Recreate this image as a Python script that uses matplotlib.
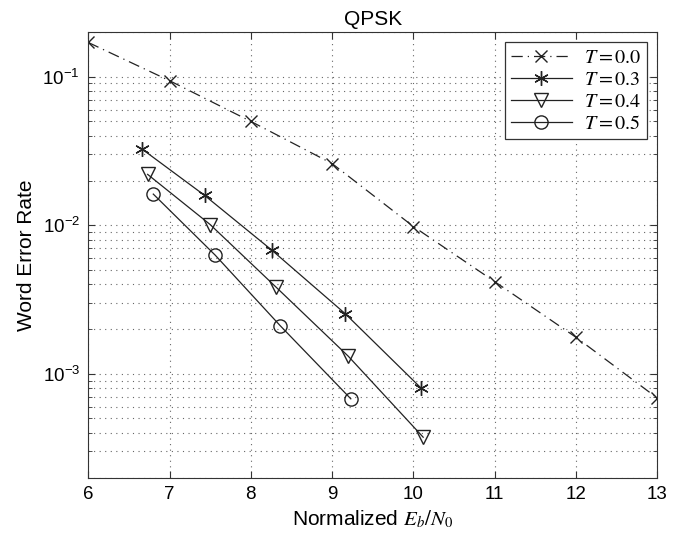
import numpy as np
from matplotlib import pyplot as plt
from matplotlib import ticker
import matplotlib

matplotlib.rc('font', family='Liberation Sans', size=13.5)
matplotlib.rc('mathtext', fontset='stix')

x_t0 = [6, 7, 8, 9, 10, 11, 12, 13]
wer_t0 = [0.170, 0.094, 0.050, 0.026, 0.0098, 0.00417, 0.00176, 0.000686]

x_t3 = [6.66, 7.43, 8.26, 9.16, 10.09]
wer_t3 = [0.0326, 0.0159, 0.00678, 0.00254, 0.000805]

x_t4 = [6.73, 7.50, 8.31, 9.20, 10.12]
wer_t4 = [0.0220, 0.0101, 0.00383, 0.00131, 0.000374]

x_t5 = [6.80, 7.56, 8.36, 9.23]
wer_t5 = [0.0162, 0.0063, 0.00211, 0.000678]

labels = ['$T = 0.0$', '$T = 0.3$', '$T = 0.4$', '$T = 0.5$']

fig = plt.figure(figsize=(6.79, 5.33), dpi=100)
ax = fig.add_axes([0.130, 0.104, 0.838, 0.836])

c = '#222222'
ax.semilogy(x_t0, wer_t0, color=c, lw=0.9, ls=(0, (9, 4, 1, 4)), marker='x', ms=9,
            mew=1.0, label=labels[0])
ax.semilogy(x_t3, wer_t3, '-', color=c, lw=0.9, marker=(6, 2, 0), ms=10.5,
            mew=1.0, label=labels[1])
ax.semilogy(x_t4, wer_t4, '-', color=c, lw=0.9, marker='v', ms=10,
            mew=1.0, mfc='none', label=labels[2])
ax.semilogy(x_t5, wer_t5, '-', color=c, lw=0.9, marker='o', ms=9.5,
            mew=1.0, mfc='none', label=labels[3])

ax.set_xlim(6, 13)
ax.set_ylim(2e-4, 2e-1)
ax.set_xticks(range(6, 14))
ax.yaxis.set_major_locator(ticker.LogLocator(base=10, numticks=10))
ax.yaxis.set_minor_locator(ticker.LogLocator(base=10, subs=np.arange(2, 10), numticks=10))
ax.yaxis.set_minor_formatter(ticker.NullFormatter())

ax.grid(True, which='major', linestyle=(0, (1, 4)), color='#666666', lw=0.8)
ax.grid(True, which='minor', axis='y', linestyle=(0, (1, 4)), color='#666666', lw=0.8)
ax.tick_params(which='both', direction='in', top=True, right=True, colors='#333333',
               labelcolor='black')
ax.tick_params(which='major', length=5, pad=6)
ax.tick_params(which='minor', length=3)
for s in ax.spines.values():
    s.set_color('#333333')

ax.set_title('QPSK', fontsize=15, pad=5)
ax.set_xlabel('Normalized $E_b/N_0$', fontsize=15, labelpad=4)
ax.set_ylabel('Word Error Rate', fontsize=15, labelpad=5)

leg = ax.legend(loc='upper right', fontsize=14.5, handlelength=3.0, fancybox=False,
                framealpha=1, edgecolor='#333333', borderaxespad=0.5,
                labelspacing=0.15, borderpad=0.3, handletextpad=0.6)
leg.get_frame().set_linewidth(0.9)

plt.savefig('out.png', dpi=100)
